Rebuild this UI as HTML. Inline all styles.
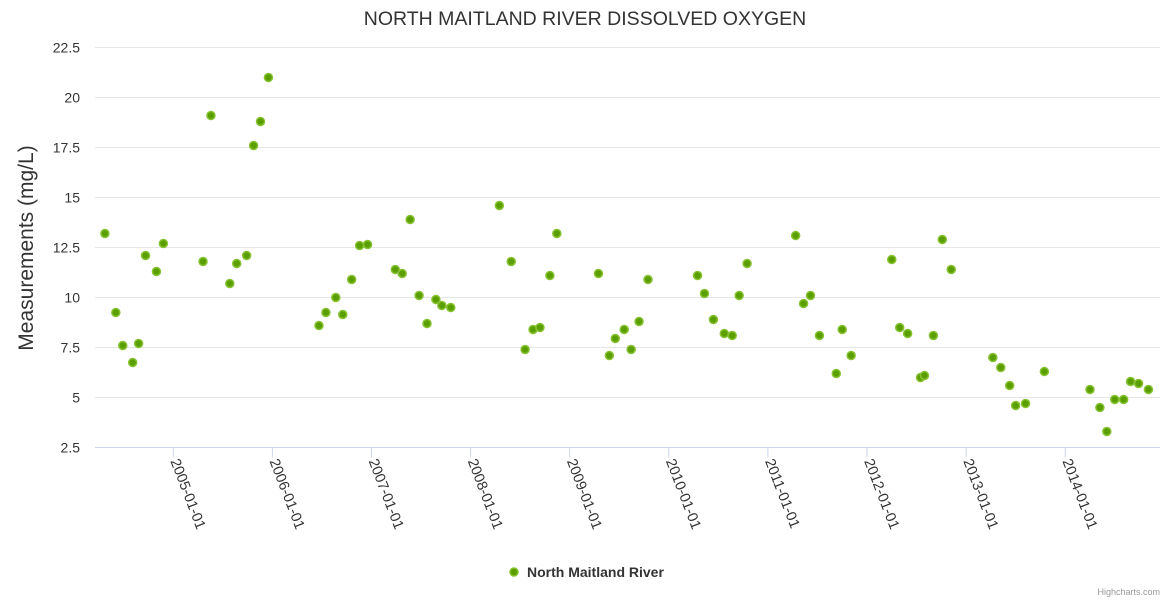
<!DOCTYPE html>
<html><head><meta charset="utf-8"><style>
body{margin:0;background:#fff;}
svg{font-family:"Liberation Sans",sans-serif;display:block;}
</style></head><body>
<svg id="chart" width="1170" height="600">
<text x="585" y="25" text-anchor="middle" font-size="19.5" fill="#333">NORTH MAITLAND RIVER DISSOLVED OXYGEN</text>
<text transform="translate(33,248) rotate(-90)" text-anchor="middle" font-size="21" fill="#333">Measurements (mg/L)</text>
<g id="grid"></g><g id="xaxis"></g><g id="pts"></g>
<g>
<circle cx="514" cy="572" r="4" fill="#5a9e00" stroke="#86c232" stroke-width="1.5"/>
<text x="527" y="577" font-size="14" font-weight="bold" fill="#333">North Maitland River</text>
</g>
<text x="1160" y="595" text-anchor="end" font-size="9" fill="#999">Highcharts.com</text>
</svg>
<script>
const yTicks=[2.5,5,7.5,10,12.5,15,17.5,20,22.5];
const yTickLabels=["2.5","5","7.5","10","12.5","15","17.5","20","22.5"];
const xTicks=[2005,2006,2007,2008,2009,2010,2011,2012,2013,2014];
const xTickLabels=["2005-01-01","2006-01-01","2007-01-01","2008-01-01","2009-01-01","2010-01-01","2011-01-01","2012-01-01","2013-01-01","2014-01-01"];
const dates=[2004.31,2004.42,2004.49,2004.59,2004.65,2004.72,2004.83,2004.90,2005.30,2005.38,2005.57,2005.64,2005.74,2005.81,2005.88,2005.96,2006.47,2006.54,2006.64,2006.71,2006.80,2006.88,2006.96,2007.24,2007.31,2007.39,2007.48,2007.56,2007.65,2007.71,2007.80,2008.29,2008.41,2008.55,2008.63,2008.70,2008.80,2008.87,2009.29,2009.40,2009.46,2009.55,2009.62,2009.70,2009.79,2010.29,2010.36,2010.45,2010.56,2010.64,2010.71,2010.79,2011.28,2011.36,2011.43,2011.52,2011.69,2011.75,2011.84,2012.25,2012.33,2012.41,2012.54,2012.58,2012.67,2012.76,2012.85,2013.27,2013.35,2013.44,2013.50,2013.60,2013.79,2014.25,2014.35,2014.42,2014.50,2014.59,2014.66,2014.74,2014.84];
const values=[13.2,9.25,7.6,6.75,7.7,12.1,11.3,12.7,11.8,19.1,10.7,11.7,12.1,17.6,18.8,21.0,8.6,9.25,10.0,9.15,10.9,12.6,12.65,11.4,11.2,13.9,10.1,8.7,9.9,9.6,9.5,14.6,11.8,7.4,8.4,8.5,11.1,13.2,11.2,7.1,7.95,8.4,7.4,8.8,10.9,11.1,10.2,8.9,8.2,8.1,10.1,11.7,13.1,9.7,10.1,8.1,6.2,8.4,7.1,11.9,8.5,8.2,6.0,6.1,8.1,12.9,11.4,7.0,6.5,5.6,4.6,4.7,6.3,5.4,4.5,3.3,4.9,4.9,5.8,5.7,5.4];
const NS="http://www.w3.org/2000/svg";
const L=95,R=1160;
function yS(v){return 447.5-(v-2.5)*20;}
function xS(t){return 173.3+(t-2005)*99.1;}
function mk(tag,attrs,parent){const e=document.createElementNS(NS,tag);for(const k in attrs)e.setAttribute(k,attrs[k]);parent.appendChild(e);return e;}
const grid=document.getElementById('grid');
yTicks.forEach((v,i)=>{
  if(i>0){const l=mk('line',{x1:L,x2:R,y1:yS(v),y2:yS(v),stroke:'#e6e6e6'},grid);
  
  }
  const t=mk('text',{x:80,y:yS(v)+5,'text-anchor':'end','font-size':'14',fill:'#333'},grid);
  t.textContent=yTickLabels[i];
  
  
});
const xa=document.getElementById('xaxis');
const ax=mk('line',{x1:L,x2:R,y1:447.5,y2:447.5,stroke:'#ccd6eb'},xa);


xTicks.forEach((t,i)=>{
  const x=xS(t);
  const tk=mk('line',{x1:x,x2:x,y1:447.5,y2:457.5,stroke:'#ccd6eb'},xa);
  
  
  const lb=mk('text',{transform:`translate(${x-3},${461}) rotate(69)`,'font-size':'14.5',fill:'#333'},xa);
  lb.textContent=xTickLabels[i];
  
  
});
const pts=document.getElementById('pts');
dates.forEach((d,i)=>{
  const c=mk('circle',{cx:xS(d),cy:yS(values[i]),r:4,fill:'#5a9e00',stroke:'#86c232','stroke-width':1.5},pts);
  
  
});
</script>
</body></html>
